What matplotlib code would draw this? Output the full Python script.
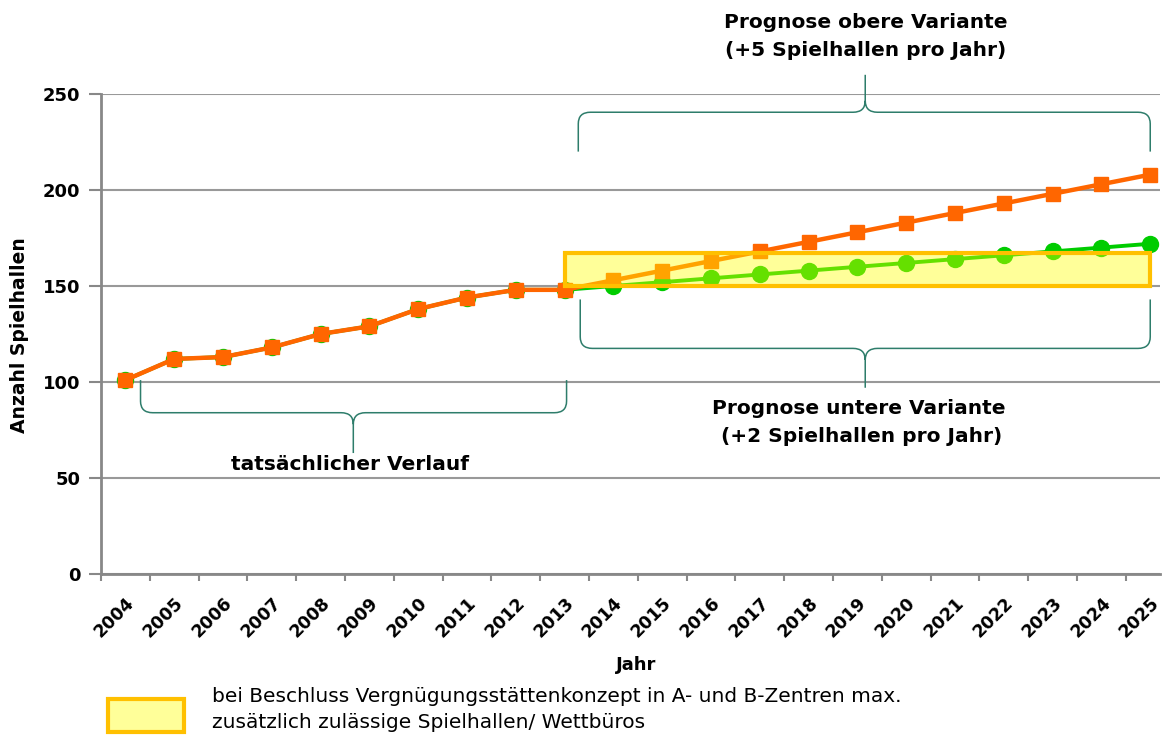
import numpy as np
import matplotlib
matplotlib.use("Agg")
import matplotlib.pyplot as plt
from matplotlib.patches import Rectangle
from matplotlib.path import Path
from matplotlib.patches import PathPatch

# ---------------- data ----------------
years = [str(y) for y in range(2004, 2026)]
historic = [101, 112, 113, 118, 125, 129, 138, 144, 148, 148]
upper_forecast = [153, 158, 163, 168, 173, 178, 183, 188, 193, 198, 203, 208]
lower_forecast = [150, 152, 154, 156, 158, 160, 162, 164, 166, 168, 170, 172]
box_low, box_high = 150, 167
box_start_year, box_end_year = "2013", "2025"

upper_series = historic + upper_forecast
lower_series = historic + lower_forecast

ORANGE = "#FF6600"
GREEN = "#00CC00"
GRID = "#999999"
AXC = "#888888"
BRACE = "#2E7D6B"

W, H = 1169, 737
fig = plt.figure(figsize=(W / 100, H / 100), dpi=100)
ax = fig.add_axes([101 / W, 1 - 574 / H, (1160 - 101) / W, (574 - 94) / H])

x = np.arange(len(years))
ax.plot(x, lower_series, color=GREEN, lw=2.8, marker="o", ms=11.5,
        markerfacecolor=GREEN, markeredgecolor=GREEN, zorder=3, clip_on=False)
ax.plot(x, upper_series, color=ORANGE, lw=3.2, marker="s", ms=9.5,
        markerfacecolor=ORANGE, markeredgecolor=ORANGE, zorder=4, clip_on=False)

i0 = years.index(box_start_year)
i1 = years.index(box_end_year)
ax.add_patch(Rectangle((i0, box_low), i1 - i0, box_high - box_low,
                       facecolor=(1, 1, 0, 0.4), edgecolor="#FFC000", lw=3, zorder=5))

ax.set_xlim(-0.49, 21.2)
ax.set_ylim(0, 250)
ax.set_yticks([0, 50, 100, 150, 200, 250])
ax.yaxis.grid(True, color=GRID, lw=1.5)
ax.set_axisbelow(True)
for s in ["top", "right"]:
    ax.spines[s].set_visible(False)
for s in ["left", "bottom"]:
    ax.spines[s].set_color(AXC)
    ax.spines[s].set_linewidth(2)

ax.set_xticks(x)
ax.set_xticklabels(years, rotation=45, ha="right", va="top", rotation_mode="anchor",
                   fontsize=12.5, fontweight="bold")
ax.tick_params(axis="x", which="major", length=0, pad=14)
ax.set_xticks(np.arange(-0.5, 21.3, 1.0), minor=True)
ax.tick_params(axis="x", which="minor", length=5, width=1.5, color=AXC)
ax.tick_params(axis="y", length=9, width=1.5, color=AXC, pad=6, labelsize=13)
for lab in ax.get_yticklabels():
    lab.set_fontweight("bold")

fig.text(20 / W, 1 - 335 / H, "Anzahl Spielhallen", rotation=90, ha="center", va="center",
         fontsize=13.5, fontweight="bold")
fig.text(636 / W, 1 - 665 / H, "Jahr", ha="center", va="center", fontsize=13, fontweight="bold")


def brace(ax, x0, x1, xm, yend, ybar, ytip, rx=0.25, ry=6):
    sgn = 1 if yend > ybar else -1  # direction of the ends relative to bar
    verts = [
        (x0, yend), (x0, ybar + sgn * ry),
        (x0, ybar), (x0 + rx, ybar),
        (xm - rx, ybar),
        (xm, ybar), (xm, ybar - sgn * ry),
        (xm, ytip),
        (xm, ybar - sgn * ry),
        (xm, ybar), (xm + rx, ybar),
        (x1 - rx, ybar),
        (x1, ybar), (x1, ybar + sgn * ry),
        (x1, yend),
    ]
    codes = [Path.MOVETO, Path.LINETO,
             Path.CURVE3, Path.CURVE3,
             Path.LINETO,
             Path.CURVE3, Path.CURVE3,
             Path.LINETO,
             Path.MOVETO,
             Path.CURVE3, Path.CURVE3,
             Path.LINETO,
             Path.CURVE3, Path.CURVE3,
             Path.LINETO]
    ax.add_patch(PathPatch(Path(verts, codes), facecolor="none", edgecolor=BRACE,
                           lw=1.1, clip_on=False, zorder=6))


brace(ax, 0.31, 9.04, 4.67, 101, 84, 63)
brace(ax, 9.28, 21.0, 15.16, 220, 240.5, 260)
brace(ax, 9.32, 21.0, 15.16, 143, 117.5, 97)

tk = dict(ha="center", va="center", fontsize=14.5, fontweight="bold")
fig.text(350 / W, 1 - 465 / H, "tatsächlicher Verlauf", **tk)
fig.text(866 / W, 1 - 22 / H, "Prognose obere Variante", **tk)
fig.text(866 / W, 1 - 50 / H, "(+5 Spielhallen pro Jahr)", **tk)
fig.text(859 / W, 1 - 408 / H, "Prognose untere Variante", **tk)
fig.text(862 / W, 1 - 436 / H, "(+2 Spielhallen pro Jahr)", **tk)

# legend
fig.patches.append(Rectangle((108 / W, 1 - 732 / H), 76 / W, 33 / H, transform=fig.transFigure,
                             facecolor="#FFFF99", edgecolor="#FFC000", lw=3))
fig.text(212 / W, 1 - 697 / H, "bei Beschluss Vergnügungsstättenkonzept in A- und B-Zentren max.",
         ha="left", va="center", fontsize=14.5)
fig.text(212 / W, 1 - 723 / H, "zusätzlich zulässige Spielhallen/ Wettbüros",
         ha="left", va="center", fontsize=14.5)

fig.savefig("out.png", dpi=100)
